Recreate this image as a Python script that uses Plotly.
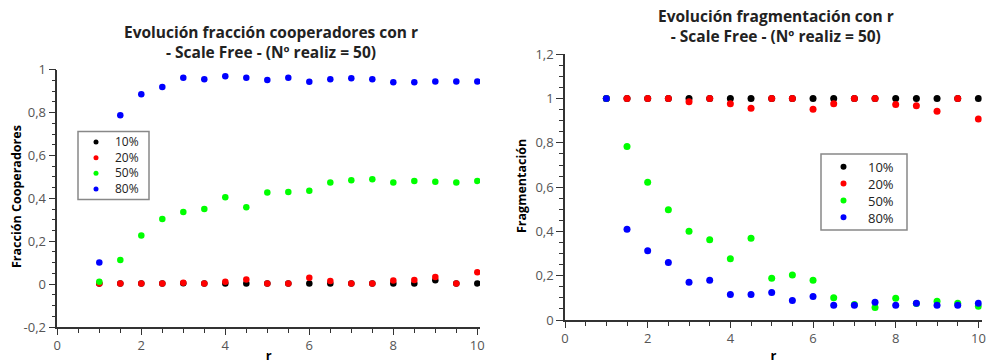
import plotly.graph_objects as go

r = [1, 1.5, 2, 2.5, 3, 3.5, 4, 4.5, 5, 5.5, 6, 6.5, 7, 7.5, 8, 8.5, 9, 9.5, 10]
labels = ["10%", "20%", "50%", "80%"]
colors = ["#000000", "#ff0000", "#00ff00", "#0000ff"]

# Fracción cooperadores
coop_10 = [0.003, 0.003, 0.003, 0.003, 0.004, 0.003, 0.003, 0.003, 0.003, 0.003,
           0.003, 0.003, 0.003, 0.003, 0.003, 0.003, 0.018, 0.003, 0.003]
coop_20 = [0.003, 0.003, 0.003, 0.003, 0.006, 0.003, 0.011, 0.022, 0.003, 0.003,
           0.030, 0.014, 0.003, 0.003, 0.017, 0.019, 0.033, 0.003, 0.055]
coop_50 = [0.011, 0.112, 0.227, 0.304, 0.336, 0.350, 0.405, 0.358, 0.427, 0.430,
           0.435, 0.474, 0.484, 0.489, 0.474, 0.481, 0.477, 0.474, 0.481]
coop_80 = [0.101, 0.788, 0.886, 0.919, 0.963, 0.955, 0.970, 0.963, 0.952, 0.963,
           0.944, 0.955, 0.960, 0.955, 0.941, 0.941, 0.945, 0.945, 0.945]

# Fragmentación
frag_10 = [1.0] * 19
frag_20 = [1.0, 1.0, 1.0, 1.0, 0.986, 1.0, 0.977, 0.956, 1.0, 1.0,
           0.952, 0.977, 1.0, 1.0, 0.973, 0.968, 0.943, 1.0, 0.908]
frag_50 = [1.0, 0.784, 0.622, 0.498, 0.401, 0.362, 0.277, 0.369, 0.189, 0.203,
           0.180, 0.101, 0.070, 0.057, 0.098, 0.075, 0.085, 0.076, 0.062]
frag_80 = [1.0, 0.410, 0.313, 0.260, 0.171, 0.180, 0.115, 0.115, 0.124, 0.088,
           0.106, 0.067, 0.067, 0.080, 0.067, 0.076, 0.067, 0.067, 0.076]

ytick_left = [-0.2, 0, 0.2, 0.4, 0.6, 0.8, 1]
ytick_left_text = ["-0,2", "0", "0,2", "0,4", "0,6", "0,8", "1"]
ytick_right = [0, 0.2, 0.4, 0.6, 0.8, 1, 1.2]
ytick_right_text = ["0", "0,2", "0,4", "0,6", "0,8", "1", "1,2"]
xtick = [0, 2, 4, 6, 8, 10]
xtick_text = ["0", "2", "4", "6", "8", "10"]

FONT = "Open Sans"
W, H = 987, 364


def px_x(p):
    return p / W


def px_y(p):
    return 1 - p / H


fig = go.Figure()
for ys, lab, col in zip([coop_10, coop_20, coop_50, coop_80], labels, colors):
    fig.add_trace(go.Scatter(x=r, y=ys, mode="markers", name=lab, showlegend=False,
                             marker=dict(color=col, size=6.5),
                             xaxis="x", yaxis="y"))
for ys, lab, col in zip([frag_10, frag_20, frag_50, frag_80], labels, colors):
    fig.add_trace(go.Scatter(x=r, y=ys, mode="markers", name=lab, showlegend=False,
                             marker=dict(color=col, size=7),
                             xaxis="x2", yaxis="y2"))

tickfont = dict(family=FONT, size=13, color="#555555")
AX = "#333333"


def xaxis(domain, rng, anchor):
    return dict(domain=domain, range=rng, anchor=anchor, showgrid=False, zeroline=False,
                automargin=False,
                showline=True, linecolor=AX, linewidth=1.5,
                ticks="outside", ticklen=6, tickwidth=1, tickcolor=AX,
                tickvals=xtick, ticktext=xtick_text, tickfont=tickfont,
                minor=dict(dtick=0.5, tick0=0, ticks="outside", ticklen=4,
                           tickcolor=AX, tickwidth=1, showgrid=False),
                title=dict(text="r", font=dict(family=FONT, size=13, color="#000", weight="bold"),
                           standoff=7))


def yaxis(domain, rng, anchor, tv, tt):
    return dict(domain=domain, range=rng, anchor=anchor, showgrid=False, zeroline=False,
                automargin=False,
                showline=True, linecolor=AX, linewidth=1.5,
                ticks="outside", ticklen=7, tickwidth=1, tickcolor=AX,
                tickvals=tv, ticktext=tt, tickfont=tickfont,
                minor=dict(dtick=0.05, tick0=0, ticks="outside", ticklen=4,
                           tickcolor=AX, tickwidth=1, showgrid=False))


# Compact legends drawn as a box, coloured dots and one multi-line text block
shapes = []
annotations = []


def add_legend(x0, y0, x1, y1, mx, tx, fsize, msize):
    step = 1.3 * fsize
    yc = (y0 + y1) / 2
    ys = [yc + (i - 1.5) * step for i in range(len(labels))]
    shapes.append(dict(type="rect", xref="paper", yref="paper",
                       x0=px_x(x0), x1=px_x(x1), y0=px_y(y1), y1=px_y(y0),
                       line=dict(color="#888888", width=1.5), fillcolor="white", layer="above"))
    for col, yy in zip(colors, ys):
        rr = msize / 2
        shapes.append(dict(type="circle", xref="paper", yref="paper",
                           x0=px_x(mx - rr), x1=px_x(mx + rr), y0=px_y(yy + rr), y1=px_y(yy - rr),
                           line=dict(width=0), fillcolor=col, layer="above"))
    annotations.append(dict(text="<br>".join(labels), x=px_x(tx), y=px_y(yc),
                            xref="paper", yref="paper", align="left",
                            xanchor="left", yanchor="middle", showarrow=False,
                            font=dict(family=FONT, size=fsize, color="#222222")))


add_legend(78, 131.5, 149, 199.5, 96, 113, 12, 5)
add_legend(821, 154, 907, 230, 843.5, 866, 13, 6)

ytitle_font = dict(family=FONT, size=12.5, color="#000000")
annotations += [
    dict(text="<b>Evolución fracción cooperadores con r<br>- Scale Free - (Nº realiz = 50)</b>",
         x=px_x(271), y=px_y(42), xref="paper", yref="paper",
         xanchor="center", yanchor="middle", showarrow=False,
         font=dict(family=FONT, size=15.5, color="#222222")),
    dict(text="<b>Evolución fragmentación con r<br>- Scale Free - (Nº realiz = 50)</b>",
         x=px_x(776), y=px_y(26), xref="paper", yref="paper",
         xanchor="center", yanchor="middle", showarrow=False,
         font=dict(family=FONT, size=15.5, color="#222222")),
    dict(text="<b>Fracción Cooperadores</b>", textangle=-90,
         x=px_x(16), y=px_y(197), xref="paper", yref="paper",
         xanchor="center", yanchor="middle", showarrow=False, font=ytitle_font),
    dict(text="<b>Fragmentación</b>", textangle=-90,
         x=px_x(521), y=px_y(186), xref="paper", yref="paper",
         xanchor="center", yanchor="middle", showarrow=False, font=ytitle_font),
]

fig.update_layout(
    width=W, height=H,
    margin=dict(l=0, r=0, t=0, b=0, autoexpand=False),
    paper_bgcolor="white", plot_bgcolor="white",
    font=dict(family=FONT),
    showlegend=False,
    xaxis=xaxis([px_x(57.3), px_x(480)], [0, 10.064], "y"),
    yaxis=yaxis([px_y(327), px_y(69.7)], [-0.2, 1.0], "x", ytick_left, ytick_left_text),
    xaxis2=xaxis([px_x(565), px_x(981.7)], [0, 10.08], "y2"),
    yaxis2=yaxis([px_y(320), px_y(54.3)], [0, 1.2], "x2", ytick_right, ytick_right_text),
    shapes=shapes,
    annotations=annotations,
)

fig.write_html("out.html")
